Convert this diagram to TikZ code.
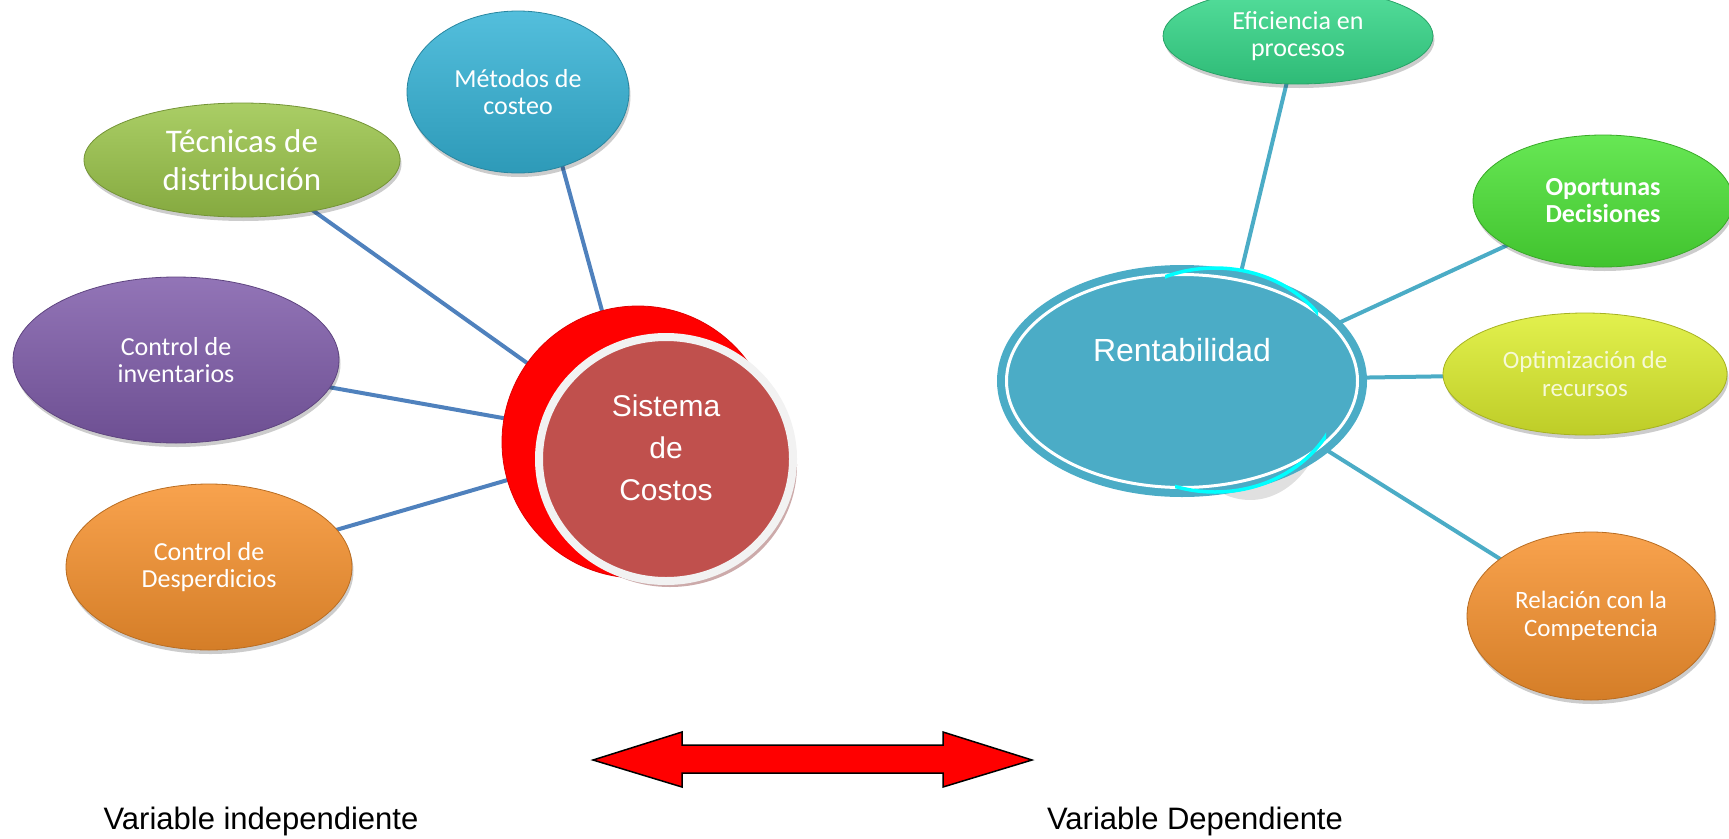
\documentclass[tikz,border=0pt]{standalone}
\usepackage{fontspec}
\setmainfont{Carlito}
\newfontfamily\arialfont{Liberation Sans}
\usetikzlibrary{shapes.geometric,calc,shadows}

% palette
\definecolor{metC}{HTML}{35B3D6}
\definecolor{tecC}{HTML}{9BC54A}
\definecolor{invC}{HTML}{7F5CAA}
\definecolor{desC}{HTML}{F7922E}
\definecolor{efiC}{HTML}{36D98A}
\definecolor{opoC}{HTML}{4CE336}
\definecolor{optC}{HTML}{DDEE2E}
\definecolor{relC}{HTML}{F7922E}
\definecolor{sisC}{HTML}{C0504D}
\definecolor{sisRim}{HTML}{F2F2F2}
\definecolor{redC}{RGB}{255,0,0}
\definecolor{renC}{HTML}{4BACC6}
\definecolor{aqua}{RGB}{0,255,255}
\definecolor{leftLine}{HTML}{4F81BD}
\definecolor{optText}{HTML}{F6F9D6}

\pgfdeclarelayer{bg}
\pgfsetlayers{bg,main}

\tikzset{
  bubble/.style={ellipse, inner sep=0pt, align=center, text=white,
    font=\fontsize{26}{27}\selectfont, line width=0.8pt,
    top color=#1!85!white, middle color=#1, bottom color=#1!86!black,
    draw=#1!75!black,
    drop shadow={shadow xshift=1.5pt, shadow yshift=-4pt, opacity=0.2, fill=black}},
  lconn/.style={draw=leftLine, line width=4pt},
  rconn/.style={draw=renC, line width=4pt},
  caption/.style={font=\arialfont\fontsize{31}{36}\selectfont, text=black},
}

\begin{document}
\begin{tikzpicture}[x=1pt, y=-1pt]
\useasboundingbox (0,0) rectangle (1729,838);

% ---------- left cluster: Sistema de Costos ----------
\node[bubble=metC, minimum width=222, minimum height=162] (met) at (518,92) {Métodos de\\costeo};
\node[bubble=tecC, minimum width=316, minimum height=114,
      font=\fontsize{33}{38}\selectfont] (tec) at (242,160) {Técnicas de\\distribución};
\node[bubble=invC, minimum width=326, minimum height=166] (inv) at (176,360) {Control de\\inventarios};
\node[bubble=desC, minimum width=286, minimum height=166] (des) at (209,567) {Control de\\Desperdicios};

\node[circle, minimum size=272, inner sep=0pt, draw=red!88!black, line width=0.8pt,
      fill=redC] (red) at (638,442) {};
\node[ellipse, minimum width=254, minimum height=244, inner sep=0pt,
      fill=sisC, draw=sisRim, line width=8pt,
      drop shadow={shadow xshift=4pt, shadow yshift=-6pt, opacity=0.55, fill=sisC!55!gray}]
      (sis) at (666,459) {};
\node[font=\arialfont\fontsize{30}{42}\selectfont, text=white, align=center]
      (sislbl) at (666,448) {Sistema\\de\\Costos};

% ---------- right cluster: Rentabilidad ----------
\coordinate (hub) at (1215,380);
\node[bubble=efiC, minimum width=270, minimum height=96] (efi) at (1298,36) {Eficiencia en\\procesos};
\node[bubble=opoC, minimum width=260, minimum height=132,
      font=\bfseries\fontsize{26}{27}\selectfont] (opo) at (1603,201) {Oportunas\\Decisiones};
\node[bubble=optC, minimum width=284, minimum height=122, text=optText,
      font=\fontsize{25}{28}\selectfont] (opt) at (1585,374) {Optimización de\\recursos};
\node[bubble=relC, minimum width=248, minimum height=168,
      font=\fontsize{25}{28}\selectfont] (rel) at (1591,616) {Relación con la\\Competencia};

% faint shadow of the hidden back shape
\fill[black, opacity=0.12] (1250,392) ellipse [x radius=80, y radius=108];
\node[ellipse, minimum width=362, minimum height=224, inner sep=0pt,
      fill=renC, draw=renC, line width=8pt] (ren) at (1182,381) {};
\draw[white, line width=3pt] (ren.center) ellipse [x radius=175.5, y radius=106.5];
\begin{scope}
  \clip (1165,250) rectangle (1318,380) (1175,381) rectangle (1326,510);
  \draw[aqua, line width=3.5pt] (hub) ellipse [x radius=128, y radius=112];
\end{scope}
\node[font=\arialfont\fontsize{32}{36}\selectfont, text=white] (renlbl) at (1182,350) {Rentabilidad};

% ---------- connectors ----------
\begin{pgfonlayer}{bg}
  \draw[lconn] ($(met.center)+(24,0)$) -- (red.center);
  \draw[lconn] (tec.center) -- (red.center);
  \draw[lconn] (inv.center) -- (red.center);
  \draw[lconn] (des.center) -- (red.center);
  \draw[rconn] (efi.center) -- (hub);
  \draw[rconn] (opo.center) -- (hub);
  \draw[rconn] (opt.center) -- (hub);
  \draw[rconn] (rel.center) -- (hub);
\end{pgfonlayer}

% ---------- double arrow between the two variables ----------
\filldraw[fill=redC, draw=black, line width=1.5pt, line join=miter]
  (593,760) -- (682,732) -- (682,745) -- (943,745) -- (943,732) -- (1032,760)
  -- (943,787) -- (943,773) -- (682,773) -- (682,787) -- cycle;

\node[caption] (vind) at (261,821) {Variable independiente};
\node[caption] (vdep) at (1195,821) {Variable Dependiente};
\end{tikzpicture}
\end{document}
